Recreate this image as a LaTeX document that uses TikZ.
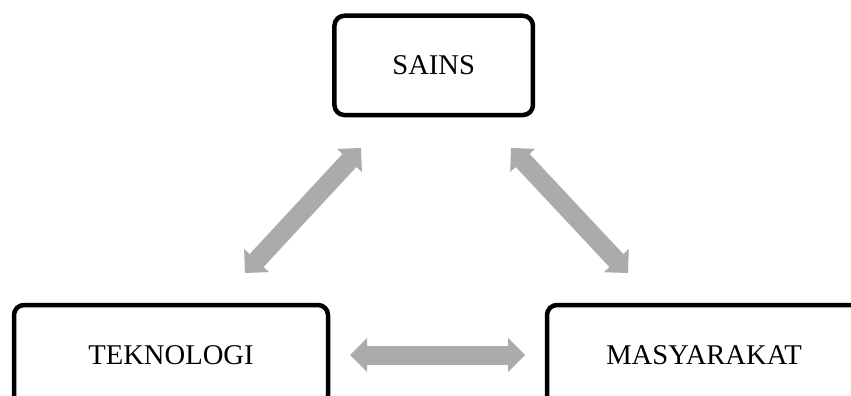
\documentclass[tikz,border=0pt]{standalone}
\usepackage{fontspec}
\setmainfont{Liberation Serif}
\usetikzlibrary{arrows.meta}
\definecolor{arrowgray}{HTML}{ABABAB}
\begin{document}
\begin{tikzpicture}[x=1pt,y=-1pt,
  box/.style={draw=black, line width=4.5pt, rounded corners=10pt, fill=white,
    inner sep=0pt, font=\fontsize{28.6}{34}\selectfont},
  tipshape/.style={},
  link/.style={draw=arrowgray, line width=19pt,
    {Triangle[width=34pt,length=17pt,line width=0pt]}-{Triangle[width=34pt,length=17pt,line width=0pt]}}]
\clip (0,0) rectangle (851,396);
\fill[white] (0,0) rectangle (851,396);
\node[box, minimum width=198.5pt, minimum height=99.3pt] (sains) at (433.7,65.4) {SAINS};
\node[box, minimum width=314pt, minimum height=100pt] (tek) at (171,355) {TEKNOLOGI};
\node[box, minimum width=314pt, minimum height=100pt] (mas) at (704,355) {MASYARAKAT};
\coordinate (a1) at (245,273);
\coordinate (a2) at (361,148);
\coordinate (b1) at (511,148);
\coordinate (b2) at (628,273);
\coordinate (c1) at (350,355);
\coordinate (c2) at (525,355);
\draw[link] (a1) -- (a2);
\draw[link] (b1) -- (b2);
\draw[link] (c1) -- (c2);
\end{tikzpicture}
\end{document}
